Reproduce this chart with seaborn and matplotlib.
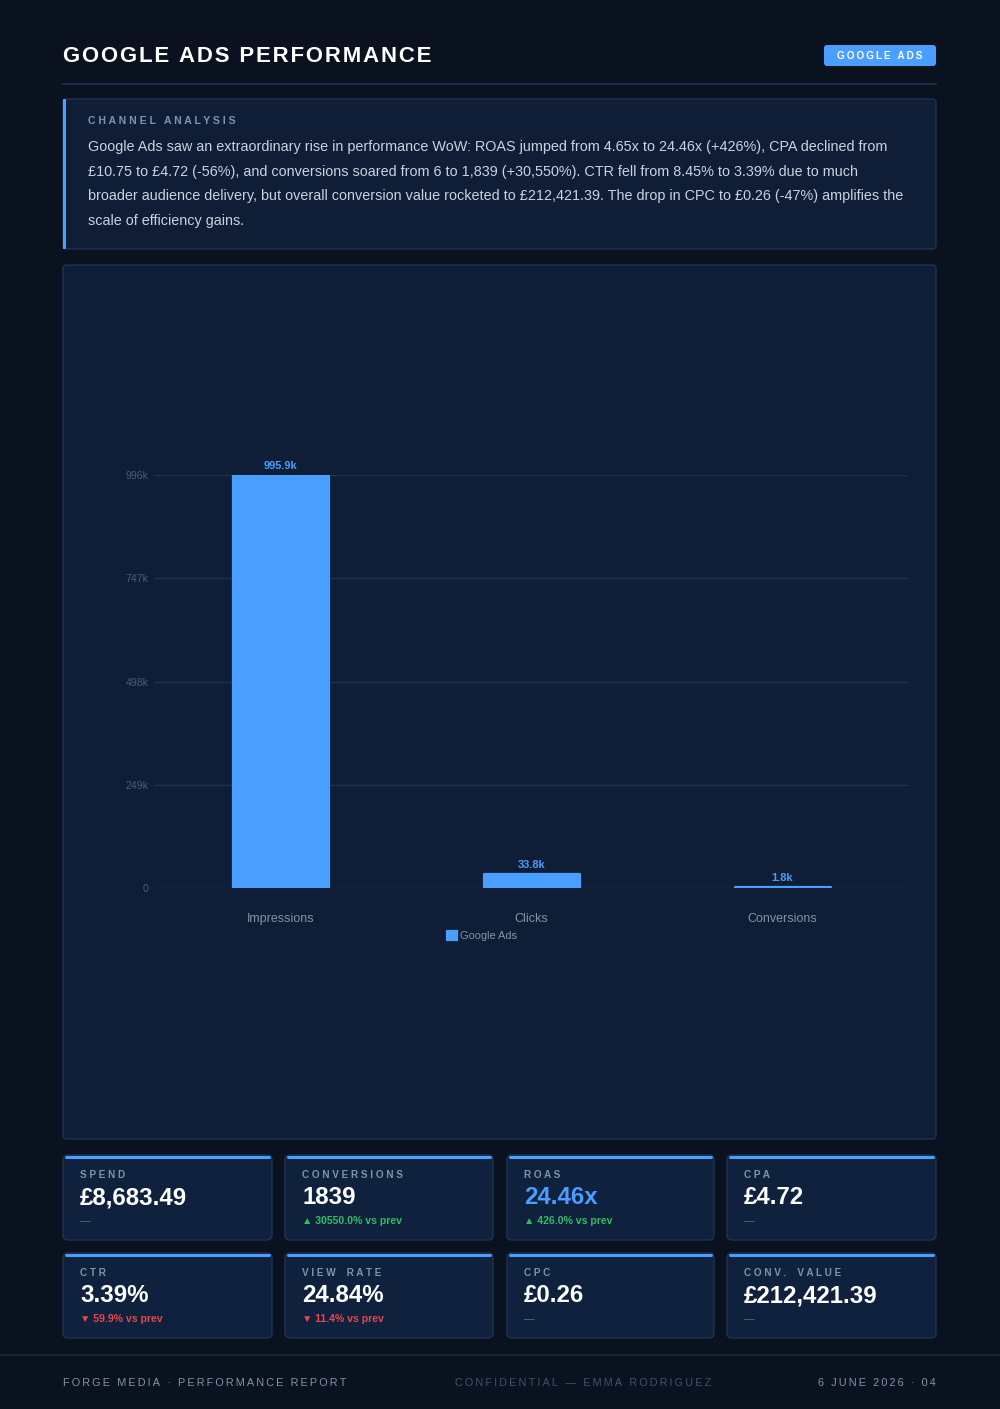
import matplotlib
matplotlib.use("Agg")
import matplotlib.pyplot as plt
from matplotlib.patches import FancyBboxPatch, Rectangle
import seaborn as sns
import pandas as pd

# ---------------- data ----------------
categories = ["Impressions", "Clicks", "Conversions"]
values = [995900, 33800, 1839]
bar_labels = ["995.9k", "33.8k", "1.8k"]
series_name = "Google Ads"
y_ticks = [0, 249000, 498000, 747000, 996000]
y_tick_labels = ["0", "249k", "498k", "747k", "996k"]

kpi_labels = ["SPEND", "CONVERSIONS", "ROAS", "CPA", "CTR", "VIEW RATE", "CPC", "CONV. VALUE"]
kpi_values = ["£8,683.49", "1839", "24.46x", "£4.72", "3.39%", "24.84%", "£0.26", "£212,421.39"]
kpi_deltas = ["—", "▲ 30550.0% vs prev", "▲ 426.0% vs prev", "—",
              "▼ 59.9% vs prev", "▼ 11.4% vs prev", "—", "—"]
kpi_kind = ["none", "up", "up", "none", "down", "down", "none", "none"]

analysis_lines = [
    "Google Ads saw an extraordinary rise in performance WoW: ROAS jumped from 4.65x to 24.46x (+426%), CPA declined from",
    "£10.75 to £4.72 (-56%), and conversions soared from 6 to 1,839 (+30,550%). CTR fell from 8.45% to 3.39% due to much",
    "broader audience delivery, but overall conversion value rocketed to £212,421.39. The drop in CPC to £0.26 (-47%) amplifies the",
    "scale of efficiency gains.",
]

# ---------------- style ----------------
BG = "#0a1220"
PANEL = "#0f1e36"
CARD = "#0f213d"
BORDER = "#1e3352"
BLUE = "#4a9eff"
MUTED = "#7f93ab"
TEXT = "#c8d3e0"
GREEN = "#2fbf62"
RED = "#e5484d"

plt.rcParams["font.family"] = ["Liberation Sans", "DejaVu Sans"]

W, H = 1000, 1409
fig = plt.figure(figsize=(W / 100, H / 100), dpi=100, facecolor=BG)

bg = fig.add_axes([0, 0, 1, 1], zorder=0)
bg.set_xlim(0, W)
bg.set_ylim(H, 0)
bg.axis("off")


def spaced(s, sep=" "):
    return sep.join(list(s))


def pt(px):
    return px * 0.72


# header
bg.text(63, 56, spaced("GOOGLE ADS PERFORMANCE", "\u200a"), color="white",
        fontsize=pt(22.2), fontweight="bold", va="center", ha="left")
bg.add_patch(FancyBboxPatch((824, 45), 112, 21, boxstyle="round,pad=0,rounding_size=3",
                            fc=BLUE, ec="none"))
bg.text(880, 56, spaced("GOOGLE ADS", "\u2009"), color="white", fontsize=pt(10),
        fontweight="bold", va="center", ha="center")
bg.plot([63, 936], [83.5, 83.5], color=BORDER, lw=1.2)

# analysis box
bg.add_patch(FancyBboxPatch((63, 99), 873, 150, boxstyle="round,pad=0,rounding_size=4",
                            fc=PANEL, ec=BORDER, lw=1))
bg.add_patch(Rectangle((63, 99), 3, 150, fc=BLUE, ec="none"))
bg.text(88, 121, spaced("CHANNEL ANALYSIS"), color=MUTED, fontsize=pt(10.5),
        fontweight="bold", va="center", ha="left")
for i, line in enumerate(analysis_lines):
    bg.text(88, 147 + i * 24.7, line, color=TEXT, fontsize=pt(14.45), va="center", ha="left")

# chart panel
bg.add_patch(FancyBboxPatch((63, 265), 873, 874, boxstyle="round,pad=0,rounding_size=4",
                            fc=PANEL, ec=BORDER, lw=1))

# ---------------- chart ----------------
ax_l, ax_r, ax_t, ax_b = 155, 908, 475, 888
ax = fig.add_axes([ax_l / W, 1 - ax_b / H, (ax_r - ax_l) / W, (ax_b - ax_t) / H], zorder=2)
ax.set_facecolor("none")

df = pd.DataFrame({"metric": categories, "value": values, "channel": series_name})
sns.barplot(data=df, x="metric", y="value", hue="channel", palette=[BLUE],
            width=0.375, ax=ax, saturation=1, zorder=3,
            edgecolor=BLUE, linewidth=pt(3.2))
for p in ax.patches:
    p.set_joinstyle("round")

ax.set_ylim(0, 996000)
ax.set_yticks(y_ticks)
ax.set_yticklabels(y_tick_labels)
ax.grid(axis="y", color=BORDER, lw=1, zorder=0)
ax.set_axisbelow(True)
for s in ax.spines.values():
    s.set_visible(False)
ax.set_xlabel("")
ax.set_ylabel("")
ax.tick_params(axis="y", length=0, pad=4.5, labelcolor="#4a5d78", labelsize=pt(10.5))
ax.tick_params(axis="x", length=0, pad=18, labelcolor="#8193a9", labelsize=pt(12.5))

ax.bar_label(ax.containers[0], labels=bar_labels, padding=3, color=BLUE,
             fontsize=pt(11), fontweight="bold")

sns.move_legend(ax, "center", bbox_to_anchor=((482 - ax_l) / (ax_r - ax_l), (ax_b - 936) / (ax_b - ax_t)),
                title=None, frameon=False, handlelength=0.8, handleheight=0.8,
                handletextpad=0.4, fontsize=pt(11))
for t in ax.get_legend().get_texts():
    t.set_color("#8193a9")

# ---------------- KPI cards ----------------
col_x = [63, 285, 507, 727]
col_w = [209, 208, 207, 209]
row_y = [1155, 1253]
card_h = 85
for i in range(8):
    r, c = divmod(i, 4)
    x, y, w = col_x[c], row_y[r], col_w[c]
    bg.add_patch(FancyBboxPatch((x, y), w, card_h, boxstyle="round,pad=0,rounding_size=5",
                                fc=CARD, ec=BORDER, lw=1))
    bg.plot([x + 3, x + w - 3], [y + 1.5, y + 1.5], color=BLUE, lw=2.2, solid_capstyle="round")
    bg.text(x + 17, y + 19.5, spaced(kpi_labels[i]).replace("   ", "    "), color=MUTED,
            fontsize=pt(10), fontweight="bold", va="center", ha="left")
    vcol = BLUE if kpi_labels[i] == "ROAS" else "white"
    bg.text(x + 17, y + 43, kpi_values[i], color=vcol, fontsize=pt(24),
            fontweight="bold", va="center", ha="left")
    dcol = {"up": GREEN, "down": RED, "none": "#5d7088"}[kpi_kind[i]]
    bg.text(x + 17, y + 66.5, kpi_deltas[i], color=dcol,
            fontsize=pt(10.5), fontweight="bold" if kpi_kind[i] != "none" else "normal",
            va="center", ha="left")

# ---------------- footer ----------------
bg.plot([0, W], [1355, 1355], color="#15253b", lw=1.5)
bg.text(63, 1383.5, spaced("FORGE MEDIA · PERFORMANCE REPORT", "\u2009"), color="#8193a9",
        fontsize=pt(10.85), va="center", ha="left")
bg.text(583, 1383.5, spaced("CONFIDENTIAL — EMMA RODRIGUEZ", "\u2009"), color="#3b5472",
        fontsize=pt(10.85), va="center", ha="center")
bg.text(936, 1383.5, spaced("6 JUNE 2026 · 04", "\u2009"), color="#8193a9",
        fontsize=pt(10.85), va="center", ha="right")

fig.savefig("out.png", dpi=100, facecolor=BG)
